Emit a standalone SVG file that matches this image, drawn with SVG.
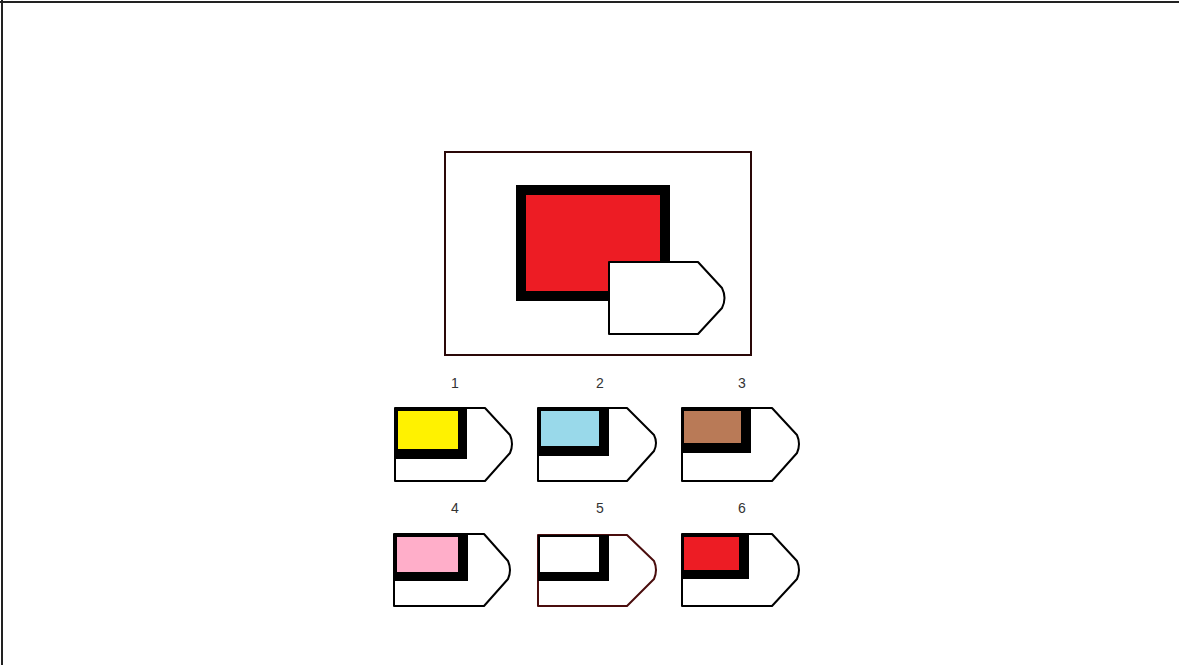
<svg xmlns="http://www.w3.org/2000/svg" width="1179" height="665" viewBox="0 0 1179 665">
<style>
.pent{fill:#fff;stroke:#000;stroke-width:2;stroke-linejoin:round}
.lbl{font-family:"Liberation Sans",Arial,sans-serif;font-size:14px;fill:#333;text-anchor:middle}
</style>
<rect x="0" y="0" width="1179" height="665" fill="#fff"/>
<g id="page-border" stroke="#222" stroke-width="2">
<line x1="0" y1="2" x2="1179" y2="2"/>
<line x1="2" y1="0" x2="2" y2="665"/>
</g>
<g id="question">
<rect x="445" y="152" width="306" height="203" fill="#fff" stroke="#2a0808" stroke-width="2"/>
<rect x="516" y="185" width="154" height="116" fill="#000"/>
<rect x="526" y="195" width="134" height="96" fill="#ED1C24"/>
<path class="pent" d="M609,262 H698 L722,288 Q727,298 722,308 L698,334 H609 Z"/>
</g>
<g id="option1">
<text class="lbl" x="455" y="388">1</text>
<path class="pent" d="M395,408 H485 L510,435 Q514,444 510,453 L485,481 H395 Z"/>
<rect x="395" y="408" width="72" height="51" fill="#000"/>
<rect x="398" y="411" width="60" height="38" fill="#FFF200"/>
</g>
<g id="option2">
<text class="lbl" x="600" y="388">2</text>
<path class="pent" d="M538,408 H627 L654,435 Q658,443 654,451 L627,481 H538 Z"/>
<rect x="538" y="408" width="71" height="48" fill="#000"/>
<rect x="541" y="411" width="58" height="35" fill="#99D9EA"/>
</g>
<g id="option3">
<text class="lbl" x="742" y="388">3</text>
<path class="pent" d="M682,408 H772 L797,435 Q801,444 797,453 L772,481 H682 Z"/>
<rect x="682" y="408" width="69" height="45" fill="#000"/>
<rect x="684" y="411" width="57" height="32" fill="#B97A57"/>
</g>
<g id="option4">
<text class="lbl" x="455" y="513">4</text>
<path class="pent" d="M394,534 H484 L508,561 Q512,570 508,579 L484,606 H394 Z"/>
<rect x="394" y="534" width="74" height="47" fill="#000"/>
<rect x="397" y="537" width="61" height="35" fill="#FFAEC9"/>
</g>
<g id="option5">
<text class="lbl" x="600" y="513">5</text>
<path class="pent" style="stroke:#4a0d0d" d="M538,535 H627 L654,561 Q658,570 654,579 L627,606 H538 Z"/>
<rect x="538" y="535" width="71" height="46" fill="#000"/>
<rect x="540" y="537" width="59" height="35" fill="#fff"/>
</g>
<g id="option6">
<text class="lbl" x="742" y="513">6</text>
<path class="pent" d="M682,534 H772 L797,561 Q801,570 797,579 L772,606 H682 Z"/>
<rect x="682" y="534" width="67" height="45" fill="#000"/>
<rect x="684" y="537" width="55" height="33" fill="#ED1C24"/>
</g>
</svg>
